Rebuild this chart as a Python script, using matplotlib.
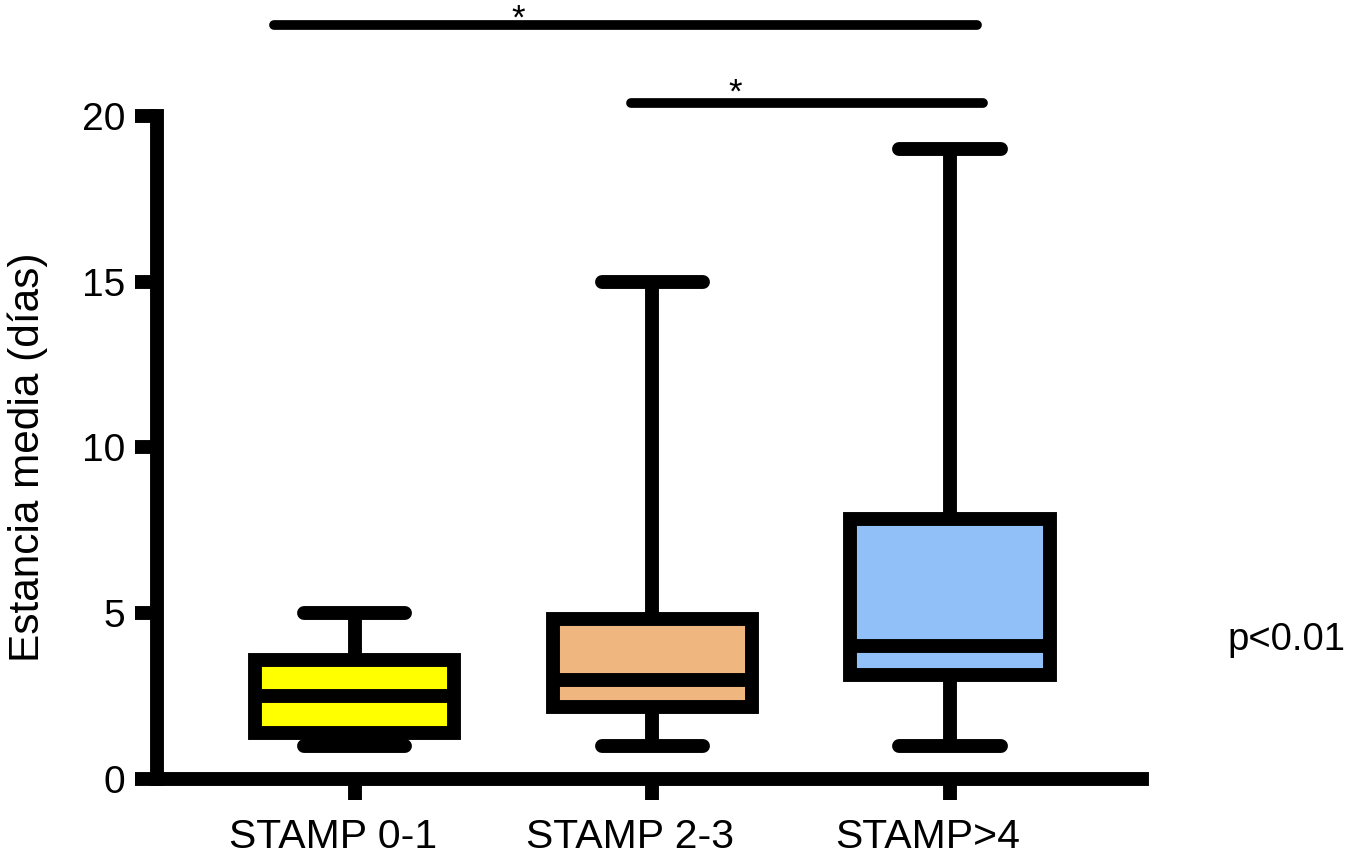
import matplotlib.pyplot as plt
from matplotlib import transforms

plt.rcParams['font.family'] = ['Liberation Sans', 'DejaVu Sans']

# data
labels = ['STAMP 0-1', 'STAMP 2-3', 'STAMP>4']
q1 = [1.39, 2.16, 3.15]
med = [2.5, 3.0, 4.0]
q3 = [3.6, 4.84, 7.83]
whislo = [1, 1, 1]
whishi = [5, 15, 19]
colors = ['#FFFF00', '#EFB77F', '#91BFF8']

# significance bars: (x start, x end, y, star x)
sig_x0 = [-0.27, 0.93]
sig_x1 = [2.09, 2.11]
sig_y = [22.75, 20.4]
star_x = [0.55, 1.28]
star_y = [22.64, 20.41]

fig = plt.figure(figsize=(13.5, 8.66), dpi=100)
ax = fig.add_axes([0.1163, 0.1005, 0.7296, 0.7656])

stats = []
for i in range(len(labels)):
    stats.append(dict(med=med[i], q1=q1[i], q3=q3[i], whislo=whislo[i],
                      whishi=whishi[i], fliers=[], label=labels[i]))

lw = 10
bp = ax.bxp(stats, positions=[0, 1, 2], widths=0.67, capwidths=0.34,
            patch_artist=True, showfliers=False,
            boxprops=dict(linewidth=lw, edgecolor='k', joinstyle='miter'),
            whiskerprops=dict(linewidth=lw, color='k', solid_capstyle='butt'),
            capprops=dict(linewidth=lw, color='k', solid_capstyle='round'),
            medianprops=dict(linewidth=lw, color='k', solid_capstyle='butt'))
for patch, c in zip(bp['boxes'], colors):
    patch.set_facecolor(c)

ax.set_xlim(-0.664, 2.645)
ax.set_ylim(0, 20)
ax.set_yticks([0, 5, 10, 15, 20])
ax.set_xticks([0, 1, 2])
ax.set_xticklabels(labels)

for s in ['top', 'right']:
    ax.spines[s].set_visible(False)
for s in ['left', 'bottom']:
    ax.spines[s].set_linewidth(lw)
    ax.spines[s].set_capstyle('projecting')

ax.tick_params(axis='x', length=15, width=lw, labelsize=29.5, pad=13)
ax.tick_params(axis='y', length=16, width=lw, labelsize=28, pad=7)

# category labels sit a little left of their ticks in the reference
shift = transforms.ScaledTranslation(-0.22, 0, fig.dpi_scale_trans)
for lab in ax.get_xticklabels():
    lab.set_transform(lab.get_transform() + shift)

# significance bars and stars
for i in range(len(sig_y)):
    ax.plot([sig_x0[i], sig_x1[i]], [sig_y[i], sig_y[i]], color='k', lw=7,
            solid_capstyle='round', clip_on=False)
    ax.text(star_x[i], star_y[i], '*', fontsize=25, ha='center',
            va='baseline', clip_on=False)

fig.text(28 / 1350, 0.472, 'Estancia media (días)', rotation=90,
         fontsize=30.5, ha='center', va='center')
fig.text(0.909, 0.249, 'p<0.01', fontsize=27.5, ha='left', va='baseline')

fig.savefig('out.png', dpi=100)
